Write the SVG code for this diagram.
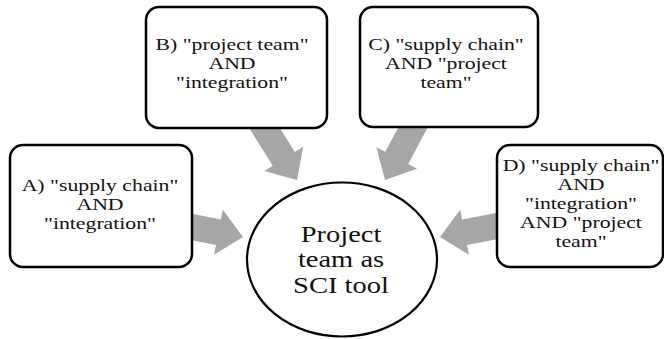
<svg xmlns="http://www.w3.org/2000/svg" width="664" height="339" viewBox="0 0 664 339">
<style>
.box{fill:#fff;stroke:#000;stroke-width:2.5}
.ell{fill:#fff;stroke:#000;stroke-width:2.2}
.arr{fill:#a6a6a6;stroke:none}
.t{font-family:"Liberation Serif","Times New Roman",serif;font-size:17px;fill:#111;text-anchor:middle}
.tc{font-family:"Liberation Serif","Times New Roman",serif;font-size:23px;fill:#111;text-anchor:middle}
</style>
<rect width="664" height="339" fill="#fff"/>
<g id="connectors">
<polygon class="arr" transform="translate(243,237) rotate(11)" points="-56,-13 -25,-13 -25,-23 0,0 -25,23 -25,13 -56,13"/>
<polygon class="arr" transform="translate(297,180) rotate(58)" points="-72,-13 -25,-13 -25,-23 0,0 -25,23 -25,13 -72,13"/>
<polygon class="arr" transform="translate(385,180) rotate(118)" points="-72,-13 -25,-13 -25,-23 0,0 -25,23 -25,13 -72,13"/>
<polygon class="arr" transform="translate(440,237) rotate(169)" points="-62,-13 -25,-13 -25,-23 0,0 -25,23 -25,13 -62,13"/>
</g>
<g id="nodeA">
<rect class="box" x="10" y="145" width="182" height="122" rx="13"/>
<text class="t" transform="translate(100,0) scale(1.28,1)"><tspan x="0" y="191.5">A) "supply chain"</tspan><tspan x="0" y="210.5">AND</tspan><tspan x="0" y="229.5">"integration"</tspan></text>
</g>
<g id="nodeB">
<rect class="box" x="146" y="7" width="181" height="121" rx="13"/>
<text class="t" transform="translate(232,0) scale(1.28,1)"><tspan x="0" y="50">B) "project team"</tspan><tspan x="0" y="69">AND</tspan><tspan x="0" y="88">"integration"</tspan></text>
</g>
<g id="nodeC">
<rect class="box" x="360" y="7" width="178" height="120" rx="13"/>
<text class="t" transform="translate(446,0) scale(1.28,1)"><tspan x="0" y="50">C) "supply chain"</tspan><tspan x="0" y="69">AND "project</tspan><tspan x="0" y="88">team"</tspan></text>
</g>
<g id="nodeD">
<rect class="box" x="497" y="145" width="166" height="122" rx="13"/>
<text class="t" transform="translate(581,0) scale(1.28,1)"><tspan x="0" y="171">D) "supply chain"</tspan><tspan x="0" y="190">AND</tspan><tspan x="0" y="209">"integration"</tspan><tspan x="0" y="228">AND "project</tspan><tspan x="0" y="247">team"</tspan></text>
</g>
<g id="center">
<ellipse class="ell" cx="342" cy="259.5" rx="95" ry="77"/>
<text class="tc" transform="translate(341,0) scale(1.24,1)"><tspan x="0" y="242">Project</tspan><tspan x="0" y="267.5">team as</tspan><tspan x="0" y="293">SCI tool</tspan></text>
</g>
</svg>
